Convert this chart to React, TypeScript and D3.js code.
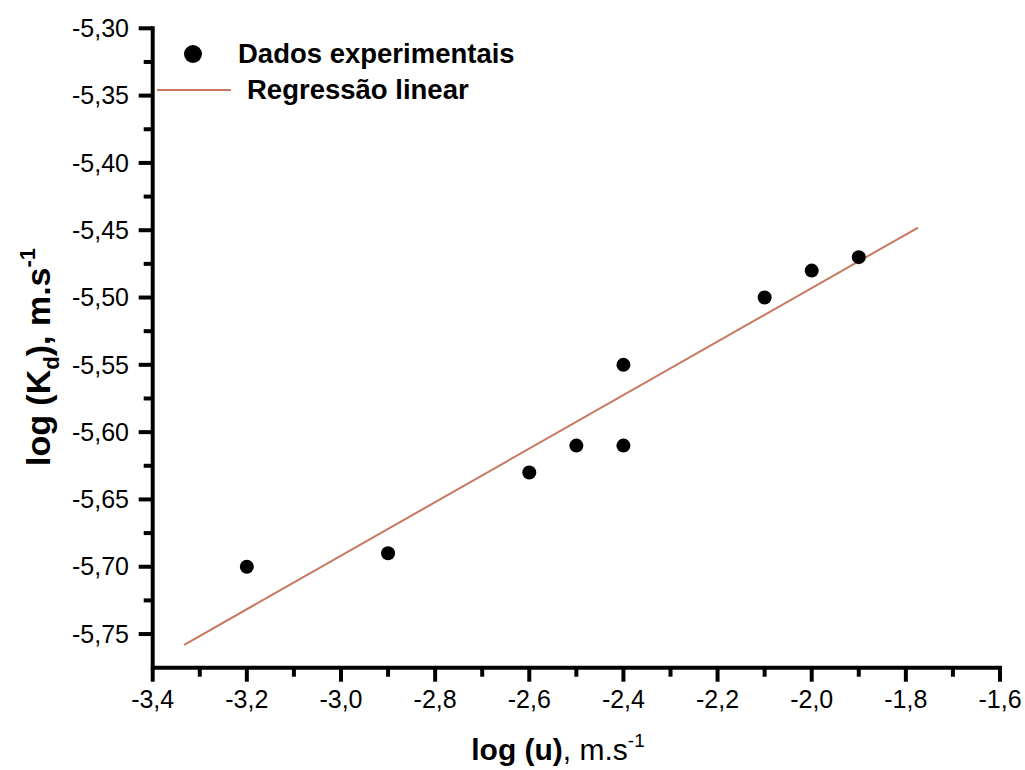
import React from "react";
import * as d3 from "d3";

const xTickValues = [-3.4, -3.2, -3.0, -2.8, -2.6, -2.4, -2.2, -2.0, -1.8, -1.6];
const xMinorValues = [-3.3, -3.1, -2.9, -2.7, -2.5, -2.3, -2.1, -1.9, -1.7];
const yTickValues = [-5.75, -5.70, -5.65, -5.60, -5.55, -5.50, -5.45, -5.40, -5.35, -5.30];
const yMinorValues = [-5.725, -5.675, -5.625, -5.575, -5.525, -5.475, -5.425, -5.375, -5.325];

const expX = [-3.2, -2.9, -2.6, -2.5, -2.4, -2.4, -2.1, -2.0, -1.9];
const expY = [-5.70, -5.69, -5.63, -5.61, -5.61, -5.55, -5.50, -5.48, -5.47];

const fitX = [-3.333, -1.774];
const fitY = [-5.758, -5.448];

const legendLabels = ["Dados experimentais", "Regressão linear"];

const FONT = "'Liberation Sans', Arial, Helvetica, sans-serif";
const LINE_COLOR = "#c8785e";

export default function App() {
  const x = d3.scaleLinear().domain([-3.4, -1.6]).range([152.7, 1000]);
  const y = d3.scaleLinear().domain([-5.775, -5.3]).range([667.7, 28.3]);
  const x0 = x(-3.4);
  const y0 = y(-5.775);
  const fmt = (v: number, d: number) => v.toFixed(d).replace(".", ",");

  const line = d3
    .line<number>()
    .x((_, i) => x(fitX[i]))
    .y((_, i) => y(fitY[i]));

  return (
    <svg
      width={1025}
      height={770}
      style={{ position: "absolute", left: 0, top: 0, background: "#fff" }}
      fontFamily={FONT}
    >
      {/* regression line */}
      <path d={line(fitX) || ""} fill="none" stroke={LINE_COLOR} strokeWidth={2} />

      {/* data points */}
      {expX.map((v, i) => (
        <circle key={i} cx={x(v)} cy={y(expY[i])} r={7} fill="#000" />
      ))}

      {/* axes */}
      <line x1={x0} x2={x(-1.6) + 2} y1={y0} y2={y0} stroke="#000" strokeWidth={4} />
      <line x1={x0} x2={x0} y1={y0 + 2} y2={y(-5.3) - 2} stroke="#000" strokeWidth={4} />

      {xTickValues.map((v) => (
        <g key={"xt" + v}>
          <line x1={x(v)} x2={x(v)} y1={y0} y2={y0 + 14} stroke="#000" strokeWidth={4} />
          <text x={x(v)} y={708} textAnchor="middle" fontSize={25} fill="#000">
            {fmt(v, 1)}
          </text>
        </g>
      ))}
      {xMinorValues.map((v) => (
        <line key={"xm" + v} x1={x(v)} x2={x(v)} y1={y0} y2={y0 + 9} stroke="#000" strokeWidth={4} />
      ))}

      {yTickValues.map((v) => (
        <g key={"yt" + v}>
          <line x1={x0 - 14} x2={x0} y1={y(v)} y2={y(v)} stroke="#000" strokeWidth={4} />
          <text x={129} y={y(v)} dy="0.35em" textAnchor="end" fontSize={25} fill="#000">
            {fmt(v, 2)}
          </text>
        </g>
      ))}
      {yMinorValues.map((v) => (
        <line key={"ym" + v} x1={x0 - 9} x2={x0} y1={y(v)} y2={y(v)} stroke="#000" strokeWidth={4} />
      ))}

      {/* axis titles */}
      <text x={558} y={760} textAnchor="middle" fontSize={30} fill="#000">
        <tspan fontWeight="bold">log (u)</tspan>
        <tspan>, m.s</tspan>
        <tspan fontSize={19} dy={-13}>-1</tspan>
      </text>
      <text
        transform="translate(50,357) rotate(-90)"
        textAnchor="middle"
        fontSize={34}
        fontWeight="bold"
        fill="#000"
      >
        <tspan>log (K</tspan>
        <tspan fontSize={22} dy={9}>d</tspan>
        <tspan dy={-9}>), m.s</tspan>
        <tspan fontSize={22} dy={-15}>-1</tspan>
      </text>

      {/* legend */}
      <circle cx={193} cy={54} r={9} fill="#000" />
      <text x={238} y={63} fontSize={27.5} fontWeight="bold" fill="#000">
        {legendLabels[0]}
      </text>
      <line x1={157} x2={231} y1={90} y2={90} stroke={LINE_COLOR} strokeWidth={2} />
      <text x={247} y={99} fontSize={27.5} fontWeight="bold" fill="#000">
        {legendLabels[1]}
      </text>
    </svg>
  );
}
